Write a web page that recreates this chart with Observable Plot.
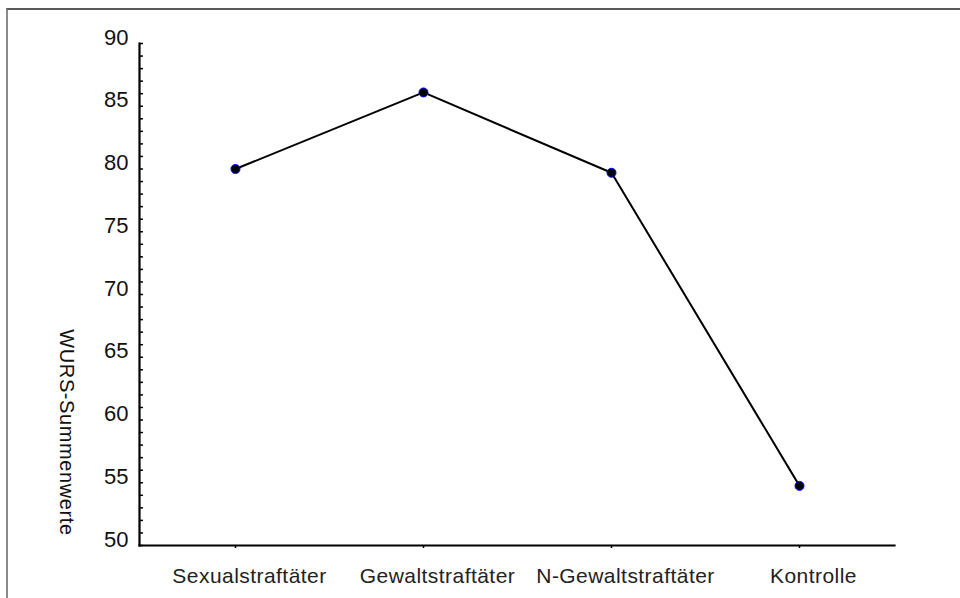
<!DOCTYPE html>
<html>
<head>
<meta charset="utf-8">
<script src="https://cdn.jsdelivr.net/npm/d3@7"></script>
<script src="https://cdn.jsdelivr.net/npm/@observablehq/plot@0.6"></script>
<style>
  html, body { margin: 0; padding: 0; background: #fff; }
  #wrap { position: relative; width: 960px; height: 598px; overflow: hidden; }
  #border { position: absolute; left: 6px; top: 8px; width: 2000px; height: 2000px;
            border-top: 2px solid #5a5a5a; border-left: 2px solid #8a8a8a; box-sizing: border-box; pointer-events: none; }
  svg { font-family: "Liberation Sans", Arial, sans-serif; }
</style>
</head>
<body>
<div id="wrap"><div id="border"></div></div>
<script>
const groups = ["Sexualstraftäter", "Gewaltstraftäter", "N-Gewaltstraftäter", "Kontrolle"];
const values = [80.0, 86.1, 79.7, 54.75];
const yMajorTicks = [50, 55, 60, 65, 70, 75, 80, 85, 90];
const yMinorTicks = d3.range(50, 91, 1);
const yTitle = "WURS-Summenwerte";

const data = groups.map((g, i) => ({group: g, value: values[i]}));

const chart = Plot.plot({
  width: 960,
  height: 598,
  marginLeft: 139,
  marginRight: 66,
  marginTop: 43,
  marginBottom: 53,
  style: {fontFamily: "'Liberation Sans', Arial, sans-serif", background: "transparent"},
  x: {type: "point", domain: groups, padding: 0.5, label: null},
  y: {domain: [50, 90], label: null},
  marks: [
    Plot.axisY({ticks: yMinorTicks, tickSize: -4, tickFormat: () => "", strokeWidth: 1.5, stroke: "#000"}),
    Plot.axisY({ticks: yMajorTicks, tickSize: 0, tickPadding: 11, dy: -6, fontSize: 22, fill: "#111", tickFormat: d => String(d)}),
    Plot.axisX({tickSize: 3, tickFormat: () => "", strokeWidth: 1.5}),
    Plot.axisX({tickSize: 0, tickPadding: 23, dx: 14, fontSize: 21, fill: "#222"}),
    Plot.frame({anchor: "left", stroke: "#000", strokeWidth: 2.2}),
    Plot.frame({anchor: "bottom", stroke: "#000", strokeWidth: 2.2}),
    Plot.line(data, {x: "group", y: "value", stroke: "#000", strokeWidth: 2}),
    Plot.dot(data, {x: "group", y: "value", r: 4.5, fill: "#000", stroke: "#0000ff", strokeWidth: 1}),
    Plot.text([yTitle], {text: d => d, frameAnchor: "left", textAnchor: "middle", lineAnchor: "middle", rotate: 90, dx: -73, dy: 138, fontSize: 20, fill: "#111"})
  ]
});
document.getElementById("wrap").appendChild(chart);
chart.style.position = "absolute";
chart.style.left = "0";
chart.style.top = "0";
d3.select(chart).selectAll('g[aria-label="x-axis tick label"] text').style("letter-spacing", "0.45px");
d3.select(chart).selectAll('g[aria-label="text"] text').style("letter-spacing", "0.6px");
</script>
</body>
</html>
